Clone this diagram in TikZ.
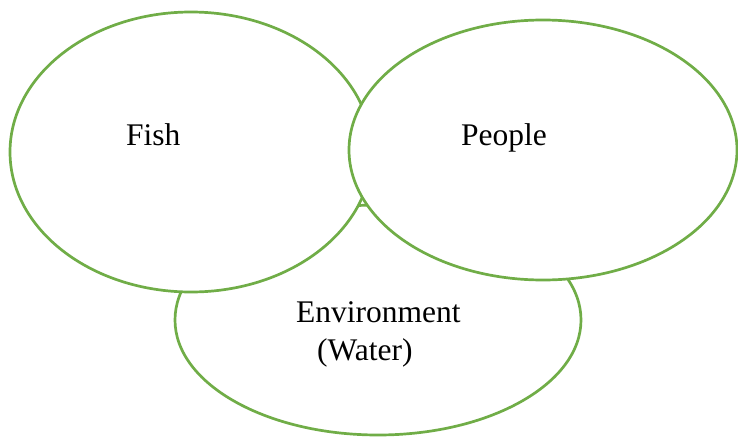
\documentclass[tikz,border=0pt]{standalone}
\usepackage{fontspec}
\setmainfont{Liberation Serif}
\usetikzlibrary{shapes.geometric}
\definecolor{vgreen}{HTML}{70AD47}
\tikzset{
  venn/.style={ellipse, draw=vgreen, fill=white, line width=2.7pt, inner sep=0pt},
  lbl/.style={anchor=base west, inner sep=0pt, font=\fontsize{31.5}{38}\selectfont}
}
\begin{document}
\begin{tikzpicture}[x=1pt,y=-1pt]
\useasboundingbox (0,0) rectangle (738,436);
\begin{scope}
\clip (0,0) rectangle (738,436);
\node[venn, minimum width=406pt, minimum height=230pt] (env) at (378,320) {};
\node[venn, minimum width=362pt, minimum height=280pt] (fish) at (191,152) {};
\node[venn, minimum width=388pt, minimum height=260pt] (people) at (543,150) {};
\end{scope}
\node[lbl] (tfish) at (126,145) {Fish};
\node[lbl] (tpeople) at (461,145) {People};
\node[lbl] (tenv) at (296,322) {Environment};
\node[lbl] (twater) at (317,360) {(Water)};
\end{tikzpicture}
\end{document}
